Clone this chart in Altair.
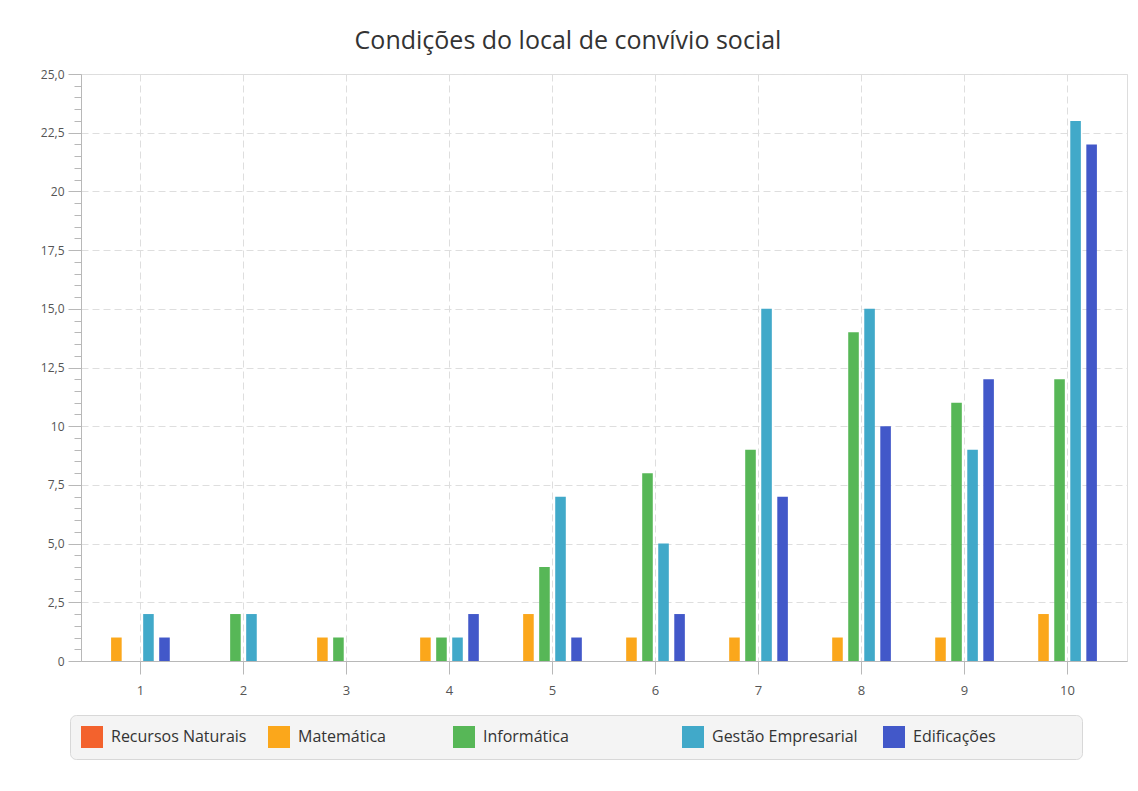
import json
import altair as alt
import pandas as pd

title = "Condições do local de convívio social"
categories = ["1", "2", "3", "4", "5", "6", "7", "8", "9", "10"]
series = ["Recursos Naturais", "Matemática", "Informática", "Gestão Empresarial", "Edificações"]
colors = ["#f3622d", "#fba71b", "#57b757", "#41a9c9", "#4258c9"]

recursos_naturais = [0, 0, 0, 0, 0, 0, 0, 0, 0, 0]
matematica = [1, 0, 1, 1, 2, 1, 1, 1, 1, 2]
informatica = [0, 2, 1, 1, 4, 8, 9, 14, 11, 12]
gestao = [2, 2, 0, 1, 7, 5, 15, 15, 9, 23]
edificacoes = [1, 0, 0, 2, 1, 2, 7, 10, 12, 22]

y_tick_labels = ["0", "2,5", "5,0", "7,5", "10", "12,5", "15,0", "17,5", "20", "22,5", "25,0"]
y_tick_values = [round(i * 0.5, 1) for i in range(51)]

# trailing space counts that widen each legend cell (layout only)
legend_pad = [5, 16, 27, 6, 18]

values = [recursos_naturais, matematica, informatica, gestao, edificacoes]
rows = []
for s, vals in zip(series, values):
    for c, v in zip(categories, vals):
        rows.append({"categoria": c, "curso": s, "valor": v})
df = pd.DataFrame(rows)

offset_domain = series + ["_"]

major_test = "abs(datum.value/2.5 - round(datum.value/2.5)) < 0.01"
label_expr = f"{major_test} ? {json.dumps(y_tick_labels)}[round(datum.value/2.5)] : ''"

legend_expr = "datum.label"
for s, n in reversed(list(zip(series, legend_pad))):
    pad = chr(160) * n + chr(0x200B)
    legend_expr = f"datum.label == {json.dumps(s)} ? datum.label + {json.dumps(pad)} : ({legend_expr})"

axis_color = "#b8b8b8"
grid_color = "#dedede"

chart = (
    alt.Chart(df)
    .mark_bar()
    .encode(
        x=alt.X(
            "categoria:N",
            sort=categories,
            scale=alt.Scale(paddingInner=0.066, paddingOuter=0.11),
            axis=alt.Axis(
                title=None,
                labelAngle=0,
                bandPosition=0.5,
                grid=True,
                gridDash=[7, 4],
                gridColor=grid_color,
                domainColor=axis_color,
                tickColor=axis_color,
                tickSize=13,
                labelPadding=10,
                labelFont="Open Sans",
                labelFontSize=13,
                labelColor="#555555",
            ),
        ),
        xOffset=alt.XOffset(
            "curso:N",
            scale=alt.Scale(domain=offset_domain, paddingInner=0.34, paddingOuter=0.17),
        ),
        y=alt.Y(
            "valor:Q",
            scale=alt.Scale(domain=[0, 25], nice=False),
            axis=alt.Axis(
                title=None,
                values=y_tick_values,
                labelExpr=label_expr,
                labelOverlap=False,
                grid=True,
                gridDash=[7, 4],
                gridColor=grid_color,
                gridOpacity={"condition": {"test": major_test, "value": 1}, "value": 0},
                domainColor=axis_color,
                tickColor=axis_color,
                tickSize={"condition": {"test": major_test, "value": 13}, "value": 7},
                labelPadding=4,
                labelFont="Open Sans",
                labelFontSize=12,
                labelColor="#555555",
            ),
        ),
        color=alt.Color(
            "curso:N",
            scale=alt.Scale(domain=series, range=colors),
            legend=alt.Legend(
                title=None,
                orient="none",
                legendX=-11,
                legendY=641,
                direction="horizontal",
                columns=5,
                gridAlign="each",
                columnPadding=0,
                symbolType="square",
                symbolSize=484,
                symbolStrokeWidth=0,
                symbolOpacity=1,
                labelFont="Open Sans",
                labelFontSize=16,
                labelColor="#333333",
                labelOffset=8,
                labelLimit=400,
                labelExpr=legend_expr,
                padding=11,
                fillColor="#f4f4f4",
                strokeColor="#d8d8d8",
                cornerRadius=6,
            ),
        ),
    )
    .properties(
        width=1046,
        height=587,
        autosize=alt.AutoSizeParams(type="none"),
        padding={"left": 73, "top": 66, "right": 2, "bottom": 110},
        title=alt.TitleParams(
            text=title,
            font="Open Sans",
            fontSize=25,
            fontWeight="normal",
            color="#333333",
            anchor="middle",
            dx=-36,
            offset=14,
        ),
    )
    .configure_view(strokeWidth=0)
    .configure(background="white")
)

chart.save("out.html", embed_options={"renderer": "svg", "actions": False})
